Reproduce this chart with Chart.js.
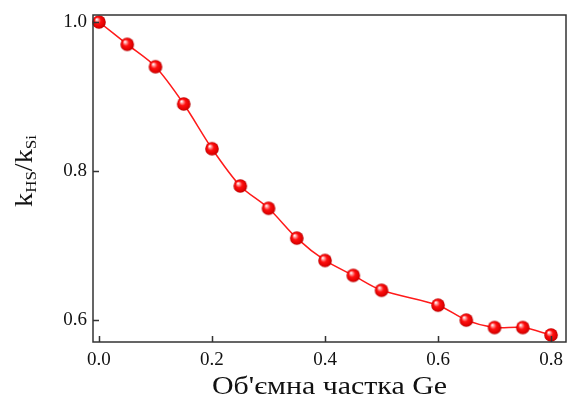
<!DOCTYPE html>
<html>
<head>
<meta charset="utf-8">
<script src="https://cdn.jsdelivr.net/npm/chart.js@4.4.1/dist/chart.umd.min.js"></script>
<style>
  html, body { margin: 0; padding: 0; background: #fff; }
  #grafico { display: block; }
</style>
</head>
<body>
<canvas id="grafico" width="567" height="399"></canvas>
<script>
// Дані з графіка
const chastkaGe = [0, 0.05, 0.1, 0.15, 0.2, 0.25, 0.3, 0.35, 0.4, 0.45, 0.5, 0.6, 0.65, 0.7, 0.75, 0.8];
const vidnoshennyaK = [1.0, 0.97, 0.94, 0.89, 0.83, 0.78, 0.75, 0.71, 0.68, 0.66, 0.64, 0.62, 0.60, 0.59, 0.59, 0.58];
const xTicks = [0, 0.2, 0.4, 0.6, 0.8];
const yTicks = [0.6, 0.8, 1.0];
const xTitle = "Об'ємна частка Ge";

const serif = '"Liberation Serif", "DejaVu Serif", serif';

// червона "кулька" для точок
function makeSphere(r) {
    const c = document.createElement('canvas');
    const s = Math.ceil(r * 2) + 2;
    c.width = s; c.height = s;
    const g = c.getContext('2d');
    const cx = s / 2, cy = s / 2;
    const grad = g.createRadialGradient(cx - r * 0.35, cy - r * 0.4, r * 0.05, cx, cy, r);
    grad.addColorStop(0, '#ffffff');
    grad.addColorStop(0.18, '#ff9a9a');
    grad.addColorStop(0.45, '#ff1010');
    grad.addColorStop(0.85, '#e00000');
    grad.addColorStop(1, '#b00000');
    g.fillStyle = grad;
    g.beginPath();
    g.arc(cx, cy, r, 0, Math.PI * 2);
    g.fill();
    return c;
}
const sphere = makeSphere(6.8);

// рамка, внутрішні поділки та підписи осей
const ramkaPlugin = {
    id: 'ramka',
    afterDraw(chart) {
        const ctx = chart.ctx;
        const a = chart.chartArea;
        const xs = chart.scales.x, ys = chart.scales.y;
        ctx.save();
        ctx.strokeStyle = '#333';
        ctx.lineWidth = 1.5;
        ctx.strokeRect(a.left, a.top, a.right - a.left, a.bottom - a.top);
        ctx.beginPath();
        xTicks.forEach(v => {
            const px = Math.round(xs.getPixelForValue(v)) + 0.5;
            ctx.moveTo(px, a.bottom);
            ctx.lineTo(px, a.bottom - 6);
        });
        yTicks.forEach(v => {
            const py = Math.round(ys.getPixelForValue(v)) + 0.5;
            ctx.moveTo(a.left, py);
            ctx.lineTo(a.left + 6, py);
        });
        ctx.stroke();

        // підпис осі X
        ctx.fillStyle = '#111';
        ctx.font = '25px ' + serif;
        ctx.textAlign = 'center';
        ctx.textBaseline = 'alphabetic';
        const cx = (a.left + a.right) / 2;
        ctx.save();
        ctx.translate(cx, 394);
        const w = ctx.measureText(xTitle).width;
        ctx.scale(235 / w, 1);
        ctx.fillText(xTitle, 0, 0);
        ctx.restore();

        // підпис осі Y: k_HS / k_Si
        const parts = [
            { t: 'k', size: 25, dy: 0 },
            { t: 'HS', size: 15, dy: 4 },
            { t: '/k', size: 25, dy: 0 },
            { t: 'Si', size: 15, dy: 4 }
        ];
        ctx.save();
        ctx.translate(32, 171);
        ctx.rotate(-Math.PI / 2);
        ctx.textAlign = 'left';
        let total = 0;
        parts.forEach(p => { ctx.font = p.size + 'px ' + serif; p.w = ctx.measureText(p.t).width; total += p.w; });
        ctx.scale(72 / total, 1);
        let x = -total / 2;
        parts.forEach(p => {
            ctx.font = p.size + 'px ' + serif;
            ctx.fillText(p.t, x, p.dy);
            x += p.w;
        });
        ctx.restore();
        ctx.restore();
    }
};

new Chart(document.getElementById('grafico'), {
    type: 'line',
    data: {
        labels: chastkaGe,
        datasets: [{
            data: chastkaGe.map((x, i) => ({ x: x, y: vidnoshennyaK[i] })),
            borderColor: '#ff1a1a',
            borderWidth: 1.5,
            tension: 0.3,
            pointStyle: sphere,
            pointRadius: 7,
            pointHoverRadius: 7,
            clip: false,
            fill: false
        }]
    },
    options: {
        responsive: false,
        animation: false,
        devicePixelRatio: 1,
        layout: { autoPadding: false, padding: { top: 15, right: 1, left: 0, bottom: 0 } },
        plugins: {
            legend: { display: false },
            tooltip: { enabled: false }
        },
        scales: {
            x: {
                type: 'linear',
                min: -0.0106,
                max: 0.8265,
                afterBuildTicks: s => { s.ticks = xTicks.map(v => ({ value: v })); },
                afterFit: s => { s.height = 57; s.paddingLeft = 0; s.paddingRight = 0; },
                grid: { display: false, drawTicks: false },
                border: { display: false },
                ticks: {
                    padding: 7,
                    color: '#111',
                    font: { family: serif, size: 19 },
                    callback: v => v.toFixed(1)
                }
            },
            y: {
                min: 0.5706,
                max: 1.0094,
                afterBuildTicks: s => { s.ticks = yTicks.map(v => ({ value: v })); },
                afterFit: s => { s.width = 93; s.paddingTop = 0; s.paddingBottom = 0; },
                grid: { display: false, drawTicks: false },
                border: { display: false },
                ticks: {
                    padding: 6,
                    color: '#111',
                    font: { family: serif, size: 19 },
                    callback: v => v.toFixed(1)
                }
            }
        }
    },
    plugins: [ramkaPlugin]
});
</script>
</body>
</html>
